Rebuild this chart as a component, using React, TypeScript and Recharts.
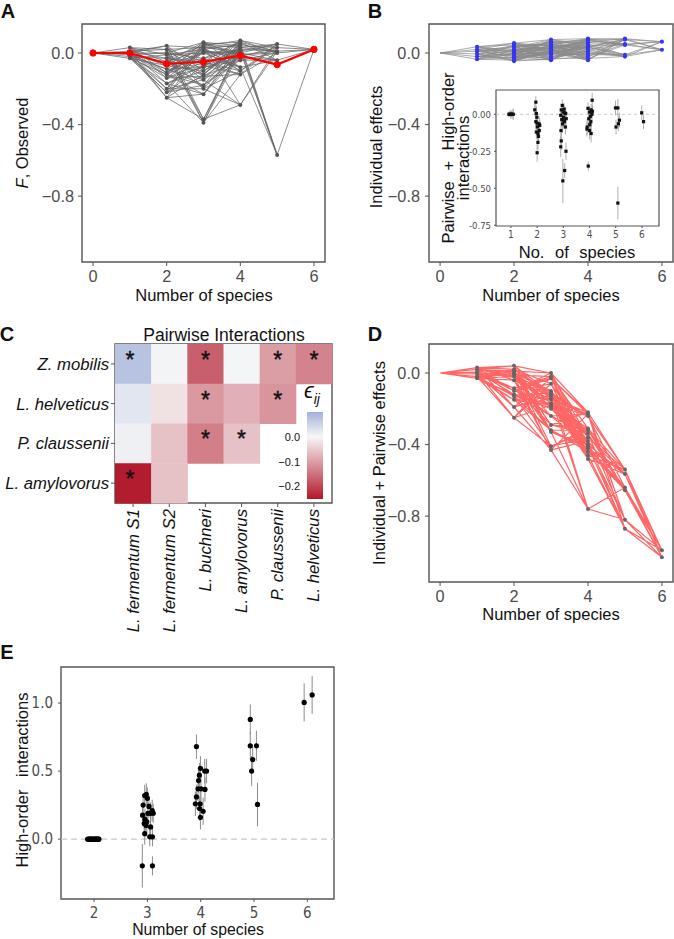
import React from "react";
import {
  ComposedChart,
  ScatterChart,
  BarChart,
  Bar,
  Line,
  Scatter,
  XAxis,
  YAxis,
  ReferenceArea,
  ReferenceLine,
  ErrorBar,
} from "recharts";

const FONT = '"Liberation Sans", Arial, Helvetica, sans-serif';
const NARROW = '"Liberation Sans Narrow", "DejaVu Sans Condensed", "Liberation Sans", sans-serif';
const TICK_GREY = "#4d4d4d";
const FRAME = "#555555";

// ---- lattice panels (A, B, D): one list of values per number of species (0..6)
const observedLevels: number[][] = [
  [0],
  [0.03, 0.01, 0.0, -0.01, -0.02, -0.03],
  [0.02, -0.11, 0.04, -0.05, -0.25, 0.0, -0.14, -0.03, -0.2, -0.09, -0.01, -0.17, -0.07, -0.12, -0.22],
  [0.03, -0.12, 0.06, -0.37, -0.05, 0.01, -0.2, -0.08, 0.04, -0.15, -0.39, 0.0, -0.1, 0.02, -0.23, -0.03, -0.13, -0.07, 0.05, -0.18],
  [0.04, -0.1, 0.07, -0.02, -0.29, 0.01, 0.05, -0.08, 0.02, -0.12, 0.0, 0.03, -0.04, -0.01, 0.06],
  [0.03, -0.57, 0.05, 0.0, -0.04, 0.01],
  [0.02],
];
const observedMean = [0, 0.0, -0.06, -0.05, -0.015, -0.065, 0.02];

const individualLevels: number[][] = [
  [0],
  [0.035, 0.02, 0.01, -0.005, -0.02, -0.035],
  [0.055, -0.02, 0.03, 0.01, -0.045, 0.04, 0.0, -0.03, 0.02, -0.01, 0.045, -0.005, 0.015, -0.04, -0.025],
  [0.075, 0.02, -0.04, 0.05, 0.0, 0.03, -0.02, 0.06, 0.01, -0.03, 0.04, -0.01, 0.065, 0.015, -0.035, 0.025, 0.045, -0.005, 0.035, 0.005],
  [0.08, 0.03, -0.04, 0.06, 0.01, 0.05, -0.02, 0.07, 0.02, -0.01, 0.04, 0.0, 0.075, 0.035, -0.03],
  [0.08, 0.05, -0.01, 0.075, 0.045, -0.02],
  [0.063, 0.018],
];

const pairwiseLevels: number[][] = [
  [0],
  [0.03, 0.02, 0.005, -0.005, -0.02, -0.03],
  [0.04, -0.1, 0.01, -0.19, 0.0, -0.085, 0.02, -0.13, -0.25, -0.01, -0.04, 0.0, -0.12, -0.02, -0.15],
  [0.0, -0.14, -0.03, -0.29, -0.11, -0.06, -0.41, -0.12, -0.17, -0.02, -0.33, -0.15, -0.2, -0.43, -0.1, -0.24, -0.13, -0.32, -0.18, -0.19],
  [-0.22, -0.36, -0.24, -0.46, -0.31, -0.4, -0.76, -0.23, -0.34, -0.42, -0.48, -0.32, -0.38, -0.44, -0.41],
  [-0.54, -0.82, -0.565, -0.64, -0.87, -0.655],
  [-0.99, -1.03],
];

// ---- inset of B: [jittered x, value, error]
const insetPoints: [number, number, number][] = [
  [0.92, 0, 0.02], [0.96, 0, 0.02], [0.99, 0, 0.03], [1.02, 0, 0.02], [1.05, 0, 0.03], [1.09, 0, 0.04],
  [1.95, 0.082, 0.04], [1.91, 0.03, 0.04], [1.97, 0.005, 0.05], [1.95, -0.05, 0.05], [2.0, -0.06, 0.05],
  [2.08, -0.065, 0.05], [2.01, -0.085, 0.05], [1.97, -0.12, 0.05], [2.03, -0.13, 0.05], [2.08, -0.11, 0.05],
  [2.05, -0.15, 0.05], [2.03, -0.19, 0.05], [2.0, -0.26, 0.06], [2.1, -0.075, 0.04], [1.99, -0.02, 0.04],
  [2.96, 0.06, 0.04], [2.92, 0.03, 0.04], [2.99, 0.015, 0.05], [3.05, 0.01, 0.04], [2.9, -0.007, 0.04],
  [3.01, -0.02, 0.05], [3.09, 0.005, 0.04], [2.94, -0.036, 0.05], [3.04, -0.05, 0.05], [2.97, -0.065, 0.06],
  [3.08, -0.086, 0.05], [2.91, -0.11, 0.06], [3.0, -0.04, 0.05], [2.92, -0.18, 0.06], [2.9, -0.22, 0.07],
  [3.1, -0.25, 0.06], [3.05, -0.38, 0.05], [2.98, -0.45, 0.15], [3.11, -0.03, 0.04], [3.03, 0.035, 0.04],
  [3.94, 0.04, 0.04], [4.1, 0.095, 0.05], [4.06, 0.03, 0.04], [4.0, 0.015, 0.04], [4.09, 0.0, 0.04],
  [4.03, -0.014, 0.05], [3.97, -0.03, 0.05], [4.05, -0.05, 0.05], [3.91, -0.086, 0.05], [4.0, -0.11, 0.06],
  [4.06, -0.13, 0.06], [3.95, -0.35, 0.03], [4.11, 0.02, 0.04], [4.01, -0.07, 0.05], [3.9, -0.1, 0.05],
  [4.99, 0.043, 0.05], [5.08, 0.043, 0.06], [5.01, -0.086, 0.05], [5.1, -0.064, 0.05], [5.14, -0.04, 0.05],
  [5.08, -0.6, 0.11],
  [5.99, 0.01, 0.05], [6.06, -0.05, 0.05],
];

// ---- C: pairwise interaction matrix
const rowNames = ["Z. mobilis", "L. helveticus", "P. claussenii", "L. amylovorus"];
const colNames = ["L. fermentum S1", "L. fermentum S2", "L. buchneri", "L. amylovorus", "P. claussenii", "L. helveticus"];
const epsilon: (number | null)[][] = [
  [0.075, 0.005, -0.17, 0.003, -0.1, -0.13],
  [0.025, -0.025, -0.105, -0.08, -0.11, null],
  [0.01, -0.06, -0.135, -0.06, null, null],
  [-0.245, -0.06, null, null, null, null],
];
const significant: number[][] = [
  [1, 0, 1, 0, 1, 1],
  [0, 0, 1, 0, 1, 0],
  [0, 0, 1, 1, 0, 0],
  [1, 0, 0, 0, 0, 0],
];
const cbarRange = [{ name: "eps", range: [-0.25, 0.1] }];
const cbarTicks = [0, -0.1, -0.2];

// ---- E: high-order interactions [jittered x, value, error]
const hoiPoints: [number, number, number][] = [
  [1.88, 0, 0], [1.9, 0, 0], [1.92, 0, 0], [1.93, 0, 0], [1.95, 0, 0], [1.96, 0, 0], [1.98, 0, 0], [2.0, 0, 0],
  [2.01, 0, 0], [2.03, 0, 0], [2.04, 0, 0], [2.06, 0, 0], [2.07, 0, 0], [2.08, 0, 0], [2.09, 0, 0],
  [2.905, -0.196, 0.16], [3.095, -0.196, 0.07], [2.95, 0.32, 0.08], [2.98, 0.33, 0.08], [2.92, 0.25, 0.08],
  [3.0, 0.3, 0.08], [2.91, 0.176, 0.08], [2.955, 0.145, 0.08], [2.99, 0.127, 0.08], [2.94, 0.115, 0.08],
  [2.975, 0.1, 0.08], [3.03, 0.24, 0.08], [3.01, 0.19, 0.08], [3.06, 0.19, 0.08], [3.09, 0.21, 0.08],
  [3.11, 0.19, 0.07], [3.06, 0.09, 0.08], [3.045, 0.017, 0.07], [3.095, 0.017, 0.07], [2.95, 0.04, 0.08],
  [3.92, 0.68, 0.09], [3.9, 0.26, 0.09], [3.92, 0.31, 0.09], [3.95, 0.37, 0.09], [3.96, 0.43, 0.09],
  [3.975, 0.47, 0.09], [3.995, 0.52, 0.09], [4.005, 0.37, 0.09], [3.99, 0.26, 0.09], [3.98, 0.225, 0.09],
  [3.995, 0.16, 0.09], [4.045, 0.205, 0.1], [4.075, 0.5, 0.09], [4.11, 0.5, 0.09], [4.08, 0.365, 0.09],
  [4.93, 0.88, 0.11], [4.93, 0.686, 0.1], [4.975, 0.585, 0.1], [4.955, 0.5, 0.11], [5.045, 0.686, 0.11],
  [5.065, 0.255, 0.16],
  [5.94, 1.005, 0.14], [6.09, 1.06, 0.14],
];

const mainXTicks = [0, 2, 4, 6];
const mainYTicks = [-0.8, -0.4, 0];
const insetXTicks = [1, 2, 3, 4, 5, 6];
const insetYTicks = [-0.75, -0.5, -0.25, 0];
const hoiXTicks = [2, 3, 4, 5, 6];
const hoiYTicks = [0, 0.5, 1.0];

// ---- helpers
const MASKS = [0, 1, 2, 3, 4, 5, 6].map((k) =>
  Array.from({ length: 64 }, (_, m) => m).filter((m) => m.toString(2).split("").filter((b) => b === "1").length === k)
);

function latticeSegments(levels: number[][]) {
  const seg: { x: number; y: number | null }[] = [];
  for (let k = 0; k < levels.length - 1; k++) {
    levels[k].forEach((ya, i) => {
      const a = MASKS[k][i % MASKS[k].length];
      levels[k + 1].forEach((yb, j) => {
        const b = MASKS[k + 1][j % MASKS[k + 1].length];
        if ((a & b) === a) seg.push({ x: k, y: ya }, { x: k + 1, y: yb }, { x: k + 1, y: null });
      });
    });
  }
  return seg;
}
// level 0 has no marker
const latticeNodes = (levels: number[][]) =>
  levels.flatMap((vals, k) => (k === 0 ? [] : vals.map((y) => ({ x: k, y }))));
const toRows = (pts: [number, number, number][]) => pts.map(([x, y, e]) => ({ x, y, e }));

const fmtMain = (v: number) => (v === 0 ? "0.0" : `\u2212${Math.abs(v).toFixed(1)}`);

const NEG = [178, 24, 43];
const MID = [247, 247, 247];
const POS = [163, 177, 217];
const mix = (a: number[], b: number[], t: number) => a.map((v, i) => Math.round(v + (b[i] - v) * t));
function epsColor(v: number) {
  const c = v >= 0 ? mix(MID, POS, Math.min(v / 0.1, 1)) : mix(MID, NEG, Math.min(-v / 0.25, 1));
  return `rgb(${c[0]},${c[1]},${c[2]})`;
}

const Txt = ({ x, y, size = 16.5, rotate = false, bold = false, italic = false, color = "#111", spacing = 0, children }: any) => (
  <div
    style={{
      position: "absolute",
      left: x,
      top: y,
      transform: `translate(-50%, -50%)${rotate ? " rotate(-90deg)" : ""}`,
      whiteSpace: "pre",
      fontSize: size,
      fontWeight: bold ? 700 : 400,
      fontStyle: italic ? "italic" : "normal",
      color,
      fontFamily: FONT,
      lineHeight: 1,
      wordSpacing: spacing,
    }}
  >
    {children}
  </div>
);

const X_DOM: [number, number] = [-0.3, 6.3];
const Y_DOM: [number, number] = [-1.168, 0.162];
const mainTick = { fill: TICK_GREY, fontSize: 16.3, fontFamily: FONT };

function LatticePanel({ levels, left, top, width, height, margin, yTickMargin, lineColor, lineOpacity, lineWidth, dotColor, dotR, mean }: any) {
  const segs = latticeSegments(levels);
  const nodes = latticeNodes(levels);
  const meanData = mean ? mean.map((y: number, x: number) => ({ x, y })) : null;
  return (
    <div style={{ position: "absolute", left, top }}>
      <ComposedChart width={width} height={height} margin={margin}>
        <XAxis type="number" dataKey="x" domain={X_DOM} ticks={mainXTicks} allowDataOverflow axisLine={false}
          tickSize={4} tickMargin={4} tickLine={{ stroke: FRAME }} tick={mainTick} height={30} />
        <YAxis type="number" dataKey="y" domain={Y_DOM} ticks={mainYTicks} allowDataOverflow axisLine={false}
          tickFormatter={fmtMain} width={60} tickSize={4} tickMargin={yTickMargin} tickLine={{ stroke: FRAME }} tick={mainTick} />
        <ReferenceArea x1={X_DOM[0]} x2={X_DOM[1]} y1={Y_DOM[0]} y2={Y_DOM[1]} fill="none" stroke={FRAME} strokeWidth={1.4} />
        <Line data={segs} dataKey="y" stroke={lineColor} strokeOpacity={lineOpacity} strokeWidth={lineWidth}
          dot={false} activeDot={false} connectNulls={false} isAnimationActive={false} />
        <Scatter data={nodes} dataKey="y" isAnimationActive={false}
          shape={(p: any) => <circle cx={p.cx} cy={p.cy} r={dotR} fill={dotColor} />} />
        {meanData && (
          <Line data={meanData} dataKey="y" stroke="#ff0000" strokeWidth={2.2} isAnimationActive={false}
            dot={{ r: 3.2, fill: "#ff0000", stroke: "#ff0000", strokeWidth: 1 }} activeDot={false} />
        )}
      </ComposedChart>
    </div>
  );
}

const CELL_W = 217 / 6;
const CELL_H = 159 / 4;

const HeatCell = (p: any) => {
  const { cx, cy, payload } = p;
  return (
    <g>
      <rect x={cx - CELL_W / 2} y={cy - CELL_H / 2} width={CELL_W + 0.5} height={CELL_H + 0.5} fill={epsColor(payload.v)} />
      {payload.star ? (
        <text x={cx - (payload.x < 1 ? 3 : 0)} y={cy + 4} textAnchor="middle" fontSize={23} fontFamily={FONT}
          fill="#111" stroke="#111" strokeWidth={0.4}>*</text>
      ) : null}
    </g>
  );
};

const ColTick = (p: any) => {
  const { x, y, payload } = p;
  return (
    <text x={x} y={y} transform={`rotate(-90 ${x} ${y})`} textAnchor="end" dominantBaseline="central"
      fontStyle="italic" fontSize={16.7} fontFamily={FONT} fill="#111">
      {colNames[Math.floor(payload.value)]}
    </text>
  );
};

function Heatmap() {
  const cells = rowNames
    .flatMap((_, i) => colNames.map((__, j) => ({ x: j + 0.5, y: i + 0.5, v: epsilon[i][j], star: significant[i][j] })))
    .filter((d) => d.v !== null);
  const stops = [0.1, 0.05, 0, -0.05, -0.1, -0.15, -0.2, -0.25];
  return (
    <>
      <div style={{ position: "absolute", left: 0, top: 320 }}>
        <ScatterChart width={340} height={320} margin={{ top: 24, right: 8, bottom: 7, left: 0 }}>
          <XAxis type="number" dataKey="x" domain={[0, 6]} ticks={[0.5, 1.5, 2.5, 3.5, 4.5, 5.5]} axisLine={false}
            tickSize={4} tickMargin={2} tickLine={{ stroke: FRAME }} tick={(p: any) => <ColTick {...p} />} height={130} interval={0} />
          <YAxis type="number" dataKey="y" domain={[0, 4]} reversed ticks={[0.5, 1.5, 2.5, 3.5]} axisLine={false}
            tickSize={4} tickMargin={2} tickLine={{ stroke: FRAME }} width={115} interval={0}
            tickFormatter={(v: number) => rowNames[Math.floor(v)]}
            tick={{ fill: "#111", fontSize: 16.7, fontStyle: "italic", fontFamily: FONT }} />
          <Scatter data={cells} isAnimationActive={false} shape={(p: any) => <HeatCell {...p} />} />
          <ReferenceArea x1={0} x2={6} y1={0} y2={4} fill="none" stroke={FRAME} strokeWidth={1.4} />
        </ScatterChart>
      </div>
      <div style={{ position: "absolute", left: 270, top: 405 }}>
        <BarChart width={60} height={100} margin={{ top: 7, right: 7, bottom: 6, left: 0 }} data={cbarRange}
          barCategoryGap={0} barGap={0}>
          <defs>
            <linearGradient id="cbar" x1="0" y1="0" x2="0" y2="1">
              {stops.map((v) => (
                <stop key={v} offset={`${((0.1 - v) / 0.35) * 100}%`} stopColor={epsColor(v)} />
              ))}
            </linearGradient>
          </defs>
          <XAxis type="category" dataKey="name" hide />
          <YAxis type="number" domain={[-0.25, 0.1]} ticks={cbarTicks} width={37} axisLine={false} tickLine={false}
            tickMargin={1} tickFormatter={(v: number) => (v === 0 ? "0.0" : `\u2212${Math.abs(v).toFixed(1)}`)}
            tick={{ fill: "#111", fontSize: 11, fontFamily: FONT }} />
          <Bar dataKey="range" fill="url(#cbar)" isAnimationActive={false} />
        </BarChart>
      </div>
    </>
  );
}

function Inset() {
  const rows = toRows(insetPoints);
  return (
    <div style={{ position: "absolute", left: 440, top: 70 }}>
      <ComposedChart width={225} height={175} margin={{ top: 20, right: 6, bottom: 4, left: 16 }}>
        <XAxis type="number" dataKey="x" domain={[0.43, 6.65]} ticks={insetXTicks} allowDataOverflow axisLine={false}
          tickSize={2} tickMargin={3} tickLine={{ stroke: FRAME }} height={15}
          tick={{ fill: TICK_GREY, fontSize: 10, fontFamily: NARROW }} />
        <YAxis type="number" dataKey="y" domain={[-0.755, 0.164]} ticks={insetYTicks} allowDataOverflow axisLine={false}
          tickSize={2} tickMargin={3} tickLine={{ stroke: FRAME }} width={40}
          tickFormatter={(v: number) => v.toFixed(2)} tick={{ fill: TICK_GREY, fontSize: 9.5, fontFamily: NARROW }} />
        <ReferenceArea x1={0.43} x2={6.65} y1={-0.755} y2={0.164} fill="#fff" fillOpacity={1} stroke={FRAME} strokeWidth={1.2} />
        <ReferenceLine y={0} stroke="#bbbbbb" strokeDasharray="3 3" strokeWidth={0.8} />
        <Scatter data={rows} dataKey="y" isAnimationActive={false}
          shape={(p: any) => <rect x={p.cx - 1.6} y={p.cy - 1.6} width={3.2} height={3.2} fill="#111" />}>
          <ErrorBar dataKey="e" direction="y" width={0} stroke="#9a9a9a" strokeWidth={0.8} />
        </Scatter>
      </ComposedChart>
    </div>
  );
}

function HighOrder() {
  const rows = toRows(hoiPoints);
  return (
    <div style={{ position: "absolute", left: 0, top: 630 }}>
      <ComposedChart width={340} height={309} margin={{ top: 37, right: 6, bottom: 10, left: 11 }}>
        <XAxis type="number" dataKey="x" domain={[1.38, 6.5]} ticks={hoiXTicks} allowDataOverflow axisLine={false}
          tickSize={3} tickMargin={5} tickLine={{ stroke: FRAME }} height={30}
          tick={{ fill: TICK_GREY, fontSize: 15, fontFamily: NARROW }} />
        <YAxis type="number" dataKey="y" domain={[-0.44, 1.265]} ticks={hoiYTicks} allowDataOverflow axisLine={false}
          tickSize={3} tickMargin={5} tickLine={{ stroke: FRAME }} width={50}
          tickFormatter={(v: number) => v.toFixed(1)} tick={{ fill: TICK_GREY, fontSize: 15, fontFamily: NARROW }} />
        <ReferenceArea x1={1.38} x2={6.5} y1={-0.44} y2={1.265} fill="none" stroke={FRAME} strokeWidth={1.4} />
        <ReferenceLine y={0} stroke="#c8c8c8" strokeDasharray="6 4" strokeWidth={1.4} />
        <Scatter data={rows} dataKey="y" isAnimationActive={false}
          shape={(p: any) => <circle cx={p.cx} cy={p.cy} r={2.6} fill="#000" />}>
          <ErrorBar dataKey="e" direction="y" width={0} stroke="#8c8c8c" strokeWidth={1} />
        </Scatter>
      </ComposedChart>
    </div>
  );
}

export default function App() {
  return (
    <div style={{ position: "absolute", left: 0, top: 0, width: 674, height: 939, background: "#fff", overflow: "hidden", fontFamily: FONT }}>
      {/* A */}
      <LatticePanel levels={observedLevels} mean={observedMean} left={0} top={0} width={340} height={310}
        margin={{ top: 24, right: 15, bottom: 18, left: 22 }} yTickMargin={4}
        lineColor="#666" lineOpacity={0.75} lineWidth={1} dotColor="#555" dotR={2} />
      <Txt x={8} y={11} size={20} bold>A</Txt>
      <Txt x={22} y={143} rotate><i>F</i>, Observed</Txt>
      <Txt x={204} y={295}>Number of species</Txt>

      {/* B */}
      <LatticePanel levels={individualLevels} left={340} top={0} width={334} height={310}
        margin={{ top: 24, right: 1, bottom: 18, left: 29 }} yTickMargin={5}
        lineColor="#8a8a8a" lineOpacity={0.7} lineWidth={1} dotColor="#3535f5" dotR={2.1} />
      <Inset />
      <Txt x={375} y={11} size={20} bold>B</Txt>
      <Txt x={376} y={147} rotate>Individual effects</Txt>
      <Txt x={551} y={295}>Number of species</Txt>
      <Txt x={448} y={158} rotate spacing={6}>Pairwise + High-order</Txt>
      <Txt x={463} y={158} rotate>interactions</Txt>
      <Txt x={577} y={252} spacing={6}>No. of species</Txt>

      {/* C */}
      <Heatmap />
      <Txt x={7} y={334} size={20} bold>C</Txt>
      <Txt x={224} y={336} size={17.5}>Pairwise Interactions</Txt>
      <Txt x={312} y={393} size={22} italic>
        {"\u03f5"}<sub style={{ fontSize: 14 }}>ij</sub>
      </Txt>

      {/* D */}
      <LatticePanel levels={pairwiseLevels} left={340} top={320} width={334} height={300}
        margin={{ top: 24, right: 1, bottom: 8, left: 29 }} yTickMargin={5}
        lineColor="#ff0000" lineOpacity={0.6} lineWidth={1.2} dotColor="#666" dotR={2} />
      <Txt x={375} y={334} size={20} bold>D</Txt>
      <Txt x={379} y={463} rotate>Individual + Pairwise effects</Txt>
      <Txt x={551} y={614}>Number of species</Txt>

      {/* E */}
      <Txt x={7} y={652} size={20} bold>E</Txt>
      <HighOrder />
      <Txt x={22} y={780} rotate spacing={8}>High-order interactions</Txt>
      <Txt x={198} y={930} size={15.8}>Number of species</Txt>
    </div>
  );
}
